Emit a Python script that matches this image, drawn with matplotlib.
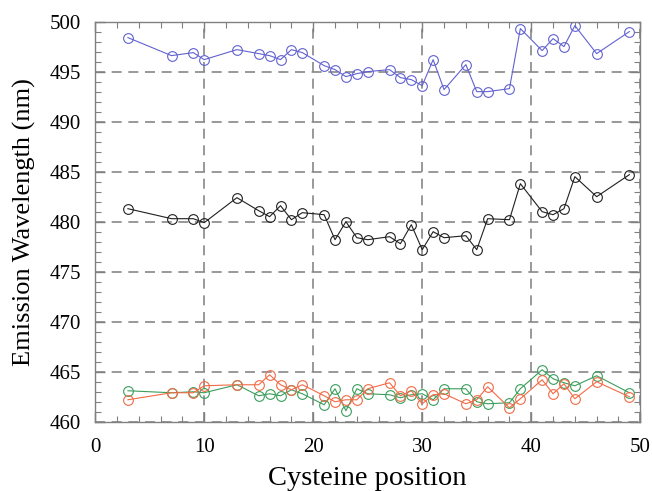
import numpy as np
import matplotlib.pyplot as plt
from matplotlib.ticker import MultipleLocator

"""
Positions des cystéines et longueurs d'onde d'émission
"""
positions = [3, 7, 9, 10, 13, 15, 16, 17, 18, 19, 21, 22, 23, 24, 25, 27,
             28, 29, 30, 31, 32, 34, 35, 36, 38, 39, 41, 42, 43, 44, 46, 49]

blue = [498.4, 496.6, 496.9, 496.2, 497.2, 496.8, 496.6, 496.2, 497.2, 496.9,
        495.6, 495.2, 494.5, 494.8, 495.0, 495.2, 494.4, 494.2, 493.6, 496.2,
        493.2, 495.7, 493.0, 493.0, 493.3, 499.3, 497.1, 498.3, 497.5, 499.6,
        496.8, 499.0]

black = [481.3, 480.3, 480.3, 479.9, 482.4, 481.1, 480.5, 481.6, 480.2, 480.9,
         480.7, 478.2, 480.0, 478.4, 478.2, 478.5, 477.8, 479.7, 477.2, 479.0,
         478.4, 478.6, 477.2, 480.3, 480.2, 483.8, 481.0, 480.7, 481.3, 484.5,
         482.5, 484.7]

green = [463.1, 462.9, 463.0, 462.9, 463.7, 462.6, 462.8, 462.6, 463.2, 462.8,
         461.7, 463.3, 461.1, 463.3, 462.8, 462.7, 462.4, 462.7, 462.8, 462.2,
         463.3, 463.3, 462.0, 461.8, 461.9, 463.3, 465.2, 464.3, 463.9, 463.6,
         464.6, 462.9]

orange = [462.2, 462.9, 462.9, 463.6, 463.7, 463.7, 464.7, 463.7, 463.2, 463.7,
          462.6, 462.0, 462.2, 462.2, 463.3, 463.9, 462.6, 463.1, 461.8, 462.7,
          462.8, 461.8, 462.2, 463.5, 461.4, 462.3, 464.2, 462.8, 463.8, 462.3,
          464.0, 462.5]

plt.rcParams['font.family'] = ['Liberation Serif', 'DejaVu Serif']

fig = plt.figure(figsize=(6.52, 4.91), dpi=100)
ax = fig.add_axes([0.146, 0.141, 0.836, 0.815])

style = dict(marker='o', markersize=7, markerfacecolor='none',
             linewidth=0.8, markeredgewidth=0.8)
ax.plot(positions, blue, color='#6262d0', **style)
ax.plot(positions, black, color='#202020', **style)
ax.plot(positions, green, color='#3a9e5c', **style)
ax.plot(positions, orange, color='#f26a46', **style)

ax.set_xlim(0, 50)
ax.set_ylim(460, 500)
ax.xaxis.set_major_locator(MultipleLocator(10))
ax.xaxis.set_minor_locator(MultipleLocator(2))
ax.yaxis.set_major_locator(MultipleLocator(5))
ax.yaxis.set_minor_locator(MultipleLocator(1))

ax.grid(True, which='major', color='#888888', linestyle=(0, (6, 4)), linewidth=1.2)
ax.set_axisbelow(True)

for s in ax.spines.values():
    s.set_color('#808080')
    s.set_linewidth(1.0)
ax.tick_params(which='both', direction='in', top=True, right=True,
               color='#808080', labelsize=15)
ax.tick_params(which='major', length=7, width=1)
ax.tick_params(which='minor', length=4, width=0.8)
ax.tick_params(axis='x', which='both', pad=12)
ax.tick_params(axis='y', which='both', pad=10)

ax.set_xlabel('Cysteine position', fontsize=20.5, labelpad=6)
ax.set_ylabel('Emission Wavelength (nm)', fontsize=19, labelpad=10)

fig.savefig('out.png', dpi=100)
